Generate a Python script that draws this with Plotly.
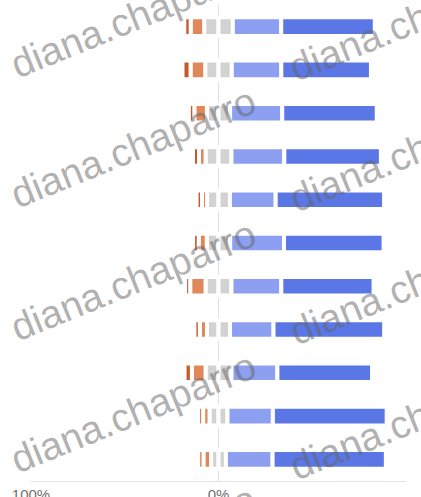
import plotly.graph_objects as go

# ---- data (percent of responses per item) ----
items = ["Item 1", "Item 2", "Item 3", "Item 4", "Item 5", "Item 6",
         "Item 7", "Item 8", "Item 9", "Item 10", "Item 11"]
strongly_disagree = [3.4, 4.3, 2.9, 3.2, 2.9, 3.0, 2.7, 2.9, 3.9, 2.6, 2.7]
disagree = [7.2, 7.8, 6.7, 3.5, 2.7, 4.3, 8.2, 3.8, 7.3, 3.4, 4.1]
neutral = [15.3, 14.2, 12.4, 13.8, 12.2, 12.5, 13.8, 12.3, 13.8, 9.6, 7.9]
agree = [25.8, 26.4, 27.8, 28.2, 24.4, 28.7, 26.6, 23.2, 24.5, 24.2, 24.9]
strongly_agree = [49.9, 47.8, 50.4, 51.5, 57.8, 53.1, 49.2, 59.0, 50.5, 60.7, 60.4]
tick_vals = [-100, 0, 100]
tick_text = ["100%", "0%", "100%"]

C_SD = "#c65a2a"
C_D = "#e0885a"
C_N = "#d2d2d2"
C_A = "#8d9ff0"
C_SA = "#5b77e6"

W, H = 421, 497
ML, MR, MT, MB = 31, 15, 5, 16

fig = go.Figure()
line = dict(color="white", width=4)

def add(vals, color, sign):
    fig.add_trace(go.Bar(
        y=items, x=[sign * v for v in vals], orientation="h",
        marker=dict(color=color, line=line), hoverinfo="skip"))

add([v / 2 for v in neutral], C_N, -1)
add([v / 2 for v in neutral], C_N, 1)
add(disagree, C_D, -1)
add(agree, C_A, 1)
add(strongly_disagree, C_SD, -1)
add(strongly_agree, C_SA, 1)

# watermark
pw, ph = W - ML - MR, H - MT - MB
def px(x):
    return (x - ML) / pw
def py(y):
    return (H - MB - y) / ph

marks = [(133, 17), (133, 147), (133, 280), (133, 412), (133, 545),
         (412, 21), (412, 151), (412, 284), (412, 419), (412, 553)]
annotations = []
for (x, y) in marks:
    annotations.append(dict(
        text="diana.chaparro", x=px(x), y=py(y), xref="paper", yref="paper",
        showarrow=False, textangle=-22, xanchor="center", yanchor="middle",
        font=dict(family="Liberation Sans, Arial", size=39,
                  color="rgba(100,100,100,0.5)")))

fig.update_layout(
    width=W, height=H,
    margin=dict(l=ML, r=MR, t=MT, b=MB, pad=0),
    barmode="relative", bargap=0.57,
    showlegend=False,
    plot_bgcolor="white", paper_bgcolor="white",
    annotations=annotations,
    font=dict(family="Liberation Sans, Arial", size=15, color="#707070"),
)
fig.update_xaxes(
    range=[-100, 100], tickvals=tick_vals, ticktext=tick_text,
    showgrid=True, gridcolor="#e3e3e3", gridwidth=1,
    zeroline=True, zerolinecolor="#e0e0e0", zerolinewidth=1,
    showline=True, linecolor="#e3e3e3", linewidth=1,
    ticks="", automargin=False, fixedrange=True,
)
fig.update_yaxes(
    categoryorder="array", categoryarray=items, autorange="reversed",
    showticklabels=False, showgrid=False, zeroline=False, ticks="",
    automargin=False, fixedrange=True,
)

fig.write_html("out.html", config={"displayModeBar": False},
               post_script="document.body.style.margin='0';document.body.style.overflow='hidden';")
